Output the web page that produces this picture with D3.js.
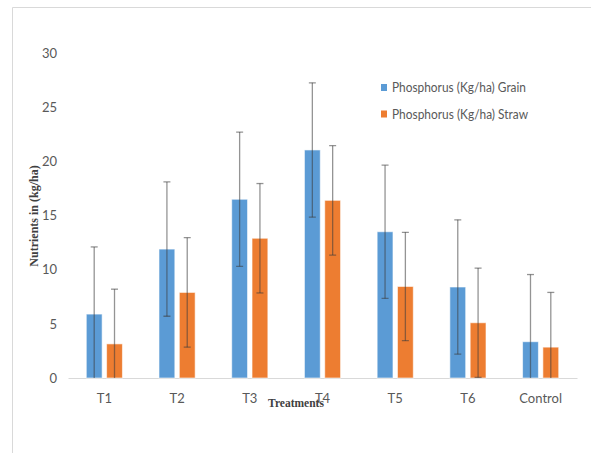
<!DOCTYPE html>
<html><head><meta charset="utf-8">
<script src="https://cdn.jsdelivr.net/npm/d3@7/dist/d3.min.js"></script>
<style>body{margin:0;background:#fff}svg{display:block}</style>
</head><body><svg id="c" width="591" height="453"></svg>
<script>
const categories = ["T1","T2","T3","T4","T5","T6","Control"];
const grain = [5.9, 11.9, 16.5, 21.05, 13.5, 8.4, 3.35];
const straw = [3.15, 7.9, 12.9, 16.4, 8.45, 5.1, 2.85];
const grainErr = [6.2, 6.2, 6.2, 6.2, 6.15, 6.2, 6.2];
const strawErr = [5.05, 5.05, 5.05, 5.05, 5.0, 5.05, 5.05];
const yTicks = [0,5,10,15,20,25,30];
const seriesNames = ["Phosphorus (Kg/ha) Grain","Phosphorus (Kg/ha) Straw"];
const colors = ["#5B9BD5","#ED7D31"];

const svg = d3.select("#c");
const pL=68, pR=577, pT=53, pB=378;
const FONT = "Lato,'Open Sans',sans-serif";
const x = d3.scaleBand().domain(categories).range([pL,pR]).paddingInner(0).paddingOuter(0);
const x1 = d3.scaleBand().domain([0,1]).range([0,x.bandwidth()]).paddingInner(0.22).paddingOuter(0.9);
const y = d3.scaleLinear().domain([0,30]).range([pB,pT]);

// border
svg.append("path").attr("d",`M12.5,453 V7.5 H591`).attr("fill","none").attr("stroke","#d9d9d9").attr("stroke-width",1);

// y tick labels
const yAxis = d3.axisLeft(y).tickValues(yTicks).tickSize(0).tickPadding(0);
const ga = svg.append("g").attr("transform",`translate(57,0)`).call(yAxis);
ga.select(".domain").remove();
ga.selectAll("text").attr("fill","#595959").attr("font-size","13px").attr("font-family",FONT);

// x axis
const xa = d3.axisBottom(x).tickSize(0).tickPadding(0);
const gx = svg.append("g").attr("transform",`translate(0,${pB})`).call(xa);
gx.select(".domain").attr("stroke","#d9d9d9");
gx.selectAll("text").attr("dy","0").attr("y",25).attr("fill","#595959").attr("font-size","13px").attr("font-family",FONT);

const data = categories.map((c,i)=>({c,vals:[grain[i],straw[i]],errs:[grainErr[i],strawErr[i]]}));
svg.append("defs").append("clipPath").attr("id","pc").append("rect").attr("x",0).attr("y",0).attr("width",591).attr("height",pB);

const g = svg.selectAll("g.grp").data(data).enter().append("g").attr("class","grp").attr("transform",d=>`translate(${x(d.c)},0)`);
g.selectAll("rect").data(d=>d.vals.map((v,k)=>({v,k}))).enter().append("rect")
 .attr("x",d=>x1(d.k)).attr("width",x1.bandwidth())
 .attr("y",d=>y(d.v)).attr("height",d=>pB-y(d.v))
 .attr("fill",d=>colors[d.k]).attr("stroke","rgba(255,255,255,0.6)").attr("stroke-width",1);

const eg = g.append("g").attr("clip-path","url(#pc)");
eg.selectAll("g.err").data(d=>d.vals.map((v,k)=>({v,k,e:d.errs[k]}))).enter().append("g").attr("class","err").each(function(d){
  const s=d3.select(this), cx=x1(d.k)+x1.bandwidth()/2;
  const hi=y(d.v+d.e), lo=y(d.v-d.e);
  s.append("line").attr("x1",cx).attr("x2",cx).attr("y1",hi).attr("y2",lo);
  s.append("line").attr("x1",cx-3.5).attr("x2",cx+3.5).attr("y1",hi).attr("y2",hi);
  s.append("line").attr("x1",cx-3.5).attr("x2",cx+3.5).attr("y1",lo).attr("y2",lo);
  s.selectAll("line").attr("stroke","rgba(60,60,60,0.55)").attr("stroke-width",1.3);
});

// axis titles
svg.append("text").attr("transform","translate(38,216) rotate(-90)").attr("text-anchor","middle")
 .attr("font-family","'Liberation Serif','Times New Roman',serif").attr("font-weight","bold").attr("font-size","12px").attr("fill","#404040")
 .text("Nutrients in (kg/ha)");
svg.append("text").attr("x",296).attr("y",407).attr("text-anchor","middle")
 .attr("font-family","'Liberation Serif','Times New Roman',serif").attr("font-weight","bold").attr("font-size","11.5px").attr("fill","#404040")
 .text("Treatments");

// legend
const lg = svg.append("g").selectAll("g").data(seriesNames).enter().append("g").attr("transform",(d,i)=>`translate(381,${87.5+i*26.5})`);
lg.append("rect").attr("x",0).attr("y",-3.5).attr("width",6).attr("height",7).attr("fill",(d,i)=>colors[i]);
lg.append("text").attr("x",11).attr("y",4.5).attr("fill","#595959").attr("font-size","12.5px")
 .attr("font-family",FONT).attr("textLength",(d,i)=>i?136:134).attr("lengthAdjust","spacingAndGlyphs").text(d=>d);
</script></body></html>
